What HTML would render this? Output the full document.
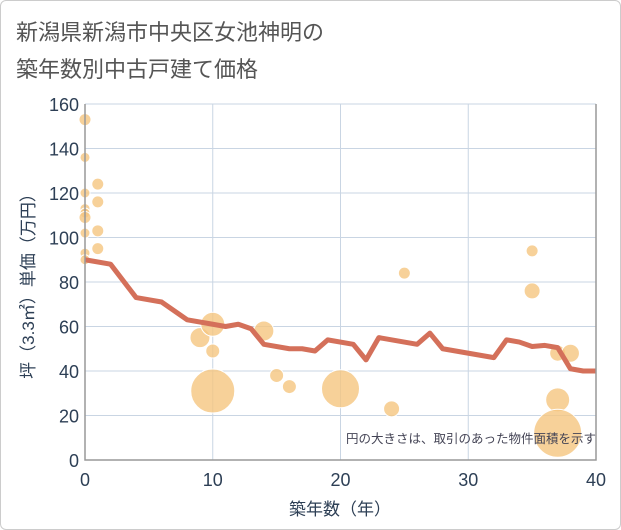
<!DOCTYPE html>
<html><head><meta charset="utf-8"><style>
body{margin:0;background:#fff;font-family:"Liberation Sans","Noto Sans CJK JP",sans-serif}
#wrap{position:relative;width:619px;height:528px;border:1px solid #ccc;border-radius:6px;overflow:hidden}
</style></head><body>
<div id="wrap">
<svg id="svg" width="621" height="530" style="position:absolute;left:-1px;top:-1px">
<text x="16" y="40" font-size="22" fill="#555">新潟県新潟市中央区女池神明の</text>
<text x="16" y="77" font-size="22" fill="#555">築年数別中古戸建て価格</text>
<g id="grid"></g><g id="bubbles"></g><g id="line"></g><g id="axes"></g>
<text x="596" y="443" font-size="12.5" fill="#445" text-anchor="end">円の大きさは、取引のあった物件面積を示す</text>
<text x="340" y="515" font-size="17" fill="#2d3f55" text-anchor="middle">築年数（年）</text>
<text transform="translate(34,282) rotate(-90)" font-size="17" fill="#2d3f55" text-anchor="middle">坪（3.3㎡）単価（万円）</text>
</svg></div>
<script>
const xTicks=[0,10,20,30,40];
const yTicks=[0,20,40,60,80,100,120,140,160];
const lineX=[0,2,4,6,7,8,10,11,12,13,14,16,17,18,19,21,22,23,26,27,28,32,33,34,35,36,37,38,39,40];
const lineY=[90,88,73,71,67,63,61,60,61,59,52,50,50,49,54,52,45,55,52,57,50,46,54,53,51,51.5,50.5,41,40,40];
const bubX=[0,0,0,0,0,0,0,0,0,1,1,1,1,9,10,10,10,14,15,16,20,24,25,35,35,37,38,37,37];
const bubY=[153,136,120,113,111,109,102,93,90,124,116,103,95,55,61,49,31,58,38,33,32,23,84,94,76,48,48,27,12];
const bubR=[6,5,5,5,5,6,5,5,5,6,6,6,6,10,12,7,22,10,7,7,19,8,6,6,8,8,9,12,24];
const NS="http://www.w3.org/2000/svg";
const X=v=>85+v*(596-85)/40, Y=v=>460-v*(460-104)/160;
function mk(t,a,p){const e=document.createElementNS(NS,t);for(const k in a)e.setAttribute(k,a[k]);document.getElementById(p).appendChild(e);return e;}
yTicks.forEach(t=>{const l=mk('line',{x1:85,x2:596,y1:Y(t),y2:Y(t),stroke:'#c9d5e3','stroke-width':1},'grid');


const tx=mk('text',{x:79,y:Y(t)+7,'font-size':18,fill:'#2d3f55','text-anchor':'end'},'axes');tx.textContent=t;

});
xTicks.forEach(t=>{const l=mk('line',{x1:X(t),x2:X(t),y1:104,y2:460,stroke:'#c9d5e3','stroke-width':1},'grid');


const tx=mk('text',{x:X(t),y:486,'font-size':18,fill:'#2d3f55','text-anchor':'middle'},'axes');tx.textContent=t;

});
const ax=mk('path',{d:`M85 104V460H596V104`,stroke:'#999',fill:'none','stroke-width':1.5},'axes');


bubX.forEach((x,i)=>{const c=mk('circle',{cx:X(x),cy:Y(bubY[i]),r:bubR[i],fill:'#f5c57f','fill-opacity':0.8,stroke:'#fff','stroke-width':1},'bubbles');

});
const p=mk('polyline',{points:lineX.map((x,i)=>X(x)+','+Y(lineY[i])).join(' '),fill:'none',stroke:'#d4705a','stroke-width':5,'stroke-linejoin':'round'},'line');


</script></body></html>
